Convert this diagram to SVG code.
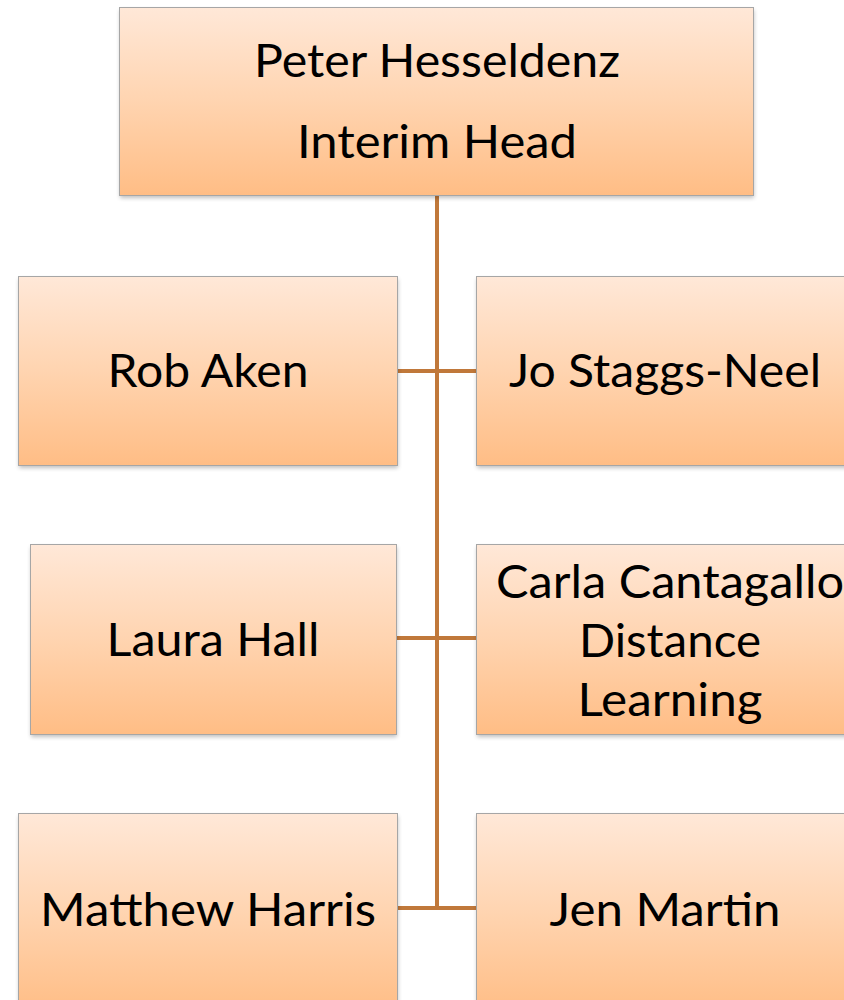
<svg xmlns="http://www.w3.org/2000/svg" width="844" height="1000" viewBox="0 0 844 1000">
<style>
.box{fill:url(#g);stroke:#a6a6a6;stroke-width:1}
.sh{fill:#000;opacity:0.25;filter:url(#blur)}
.t{font-family:Lato,"Liberation Sans",sans-serif;font-size:46px;fill:#000;text-anchor:middle}
.c{stroke:#c0783a;stroke-width:4;fill:none}
</style>
<defs>
<linearGradient id="g" x1="0" y1="0" x2="0" y2="1">
<stop offset="0" stop-color="#ffe8d8"/>
<stop offset="0.5" stop-color="#ffd4b0"/>
<stop offset="1" stop-color="#ffbd85"/>
</linearGradient>
<filter id="blur" x="-10%" y="-10%" width="120%" height="130%"><feGaussianBlur stdDeviation="2"/></filter>
</defs>
<g id="connectors">
<line class="c" x1="437" y1="195" x2="437" y2="910"/>
<line class="c" x1="397" y1="371" x2="476" y2="371"/>
<line class="c" x1="396" y1="638" x2="476" y2="638"/>
<line class="c" x1="397" y1="908" x2="476" y2="908"/>
</g>
<g id="peter">
<rect class="sh" x="120" y="10" width="634" height="188"/>
<rect class="box" x="119.5" y="7.5" width="634" height="188"/>
<text class="t" x="437" y="77" textLength="366" lengthAdjust="spacingAndGlyphs">Peter Hesseldenz</text>
<text class="t" x="437" y="158" textLength="280" lengthAdjust="spacingAndGlyphs">Interim Head</text>
</g>
<g id="rob">
<rect class="sh" x="19" y="279" width="379" height="189"/>
<rect class="box" x="18.5" y="276.5" width="379" height="189"/>
<text class="t" x="208" y="387" textLength="201" lengthAdjust="spacingAndGlyphs">Rob Aken</text>
</g>
<g id="jo">
<rect class="sh" x="477" y="279" width="379" height="189"/>
<rect class="box" x="476.5" y="276.5" width="379" height="189"/>
<text class="t" x="665" y="387" textLength="312" lengthAdjust="spacingAndGlyphs">Jo Staggs-Neel</text>
</g>
<g id="laura">
<rect class="sh" x="31" y="547" width="366" height="190"/>
<rect class="box" x="30.5" y="544.5" width="366" height="190"/>
<text class="t" x="213" y="656" textLength="213" lengthAdjust="spacingAndGlyphs">Laura Hall</text>
</g>
<g id="carla">
<rect class="sh" x="477" y="547" width="379" height="190"/>
<rect class="box" x="476.5" y="544.5" width="379" height="190"/>
<text class="t" x="670" y="598" textLength="348" lengthAdjust="spacingAndGlyphs">Carla Cantagallo</text>
<text class="t" x="670" y="657" textLength="182" lengthAdjust="spacingAndGlyphs">Distance</text>
<text class="t" x="670" y="716" textLength="185" lengthAdjust="spacingAndGlyphs">Learning</text>
</g>
<g id="matthew">
<rect class="sh" x="19" y="816" width="379" height="200"/>
<rect class="box" x="18.5" y="813.5" width="379" height="200"/>
<text class="t" x="208" y="926" textLength="336" lengthAdjust="spacingAndGlyphs">Matthew Harris</text>
</g>
<g id="jen">
<rect class="sh" x="477" y="816" width="379" height="200"/>
<rect class="box" x="476.5" y="813.5" width="379" height="200"/>
<text class="t" x="665" y="926" textLength="231" lengthAdjust="spacingAndGlyphs">Jen Martin</text>
</g>
</svg>
